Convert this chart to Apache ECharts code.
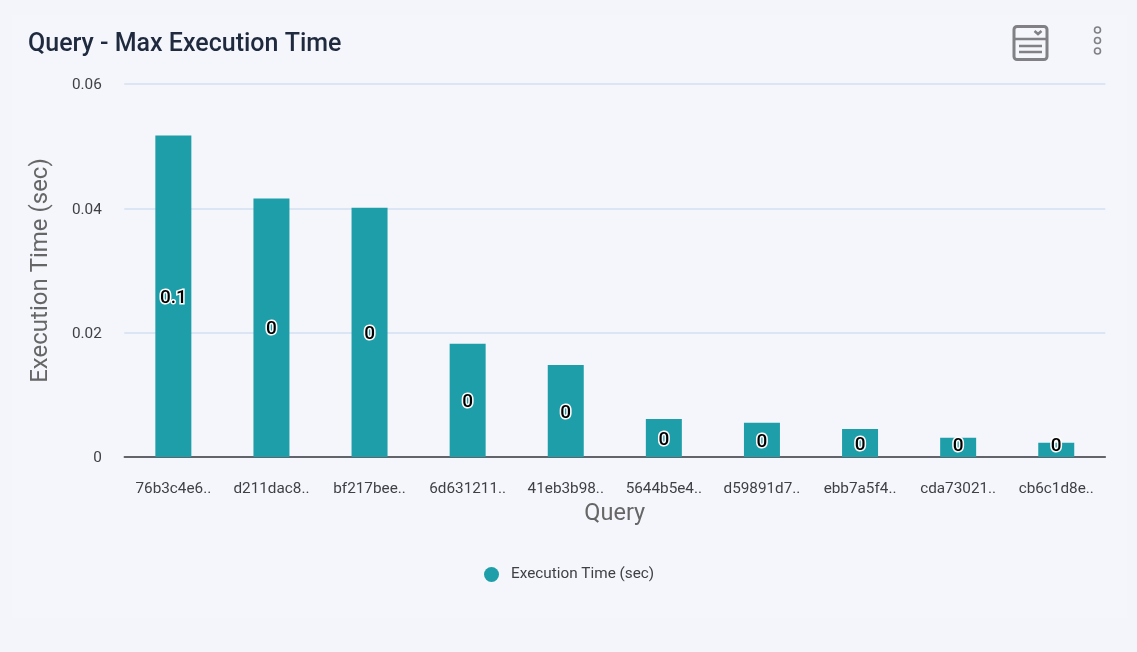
<!DOCTYPE html>
<html><head><meta charset="utf-8">
<style>html,body{margin:0;padding:0;background:#f3f5fa}#c{width:1137px;height:652px}</style>
<script src="https://cdn.jsdelivr.net/npm/echarts@6/dist/echarts.min.js"></script>
</head><body><div id="c"></div>
<script>
const categories=["76b3c4e6..","d211dac8..","bf217bee..","6d631211..","41eb3b98..","5644b5e4..","d59891d7..","ebb7a5f4..","cda73021..","cb6c1d8e.."];
const execTime=[0.0517,0.0416,0.0401,0.0182,0.0148,0.0061,0.0055,0.0045,0.0031,0.0023];
const seriesName="Execution Time (sec)";
const iconColor="#808085";
// short bars: keep the label from sinking towards the axis
const labelShift=v=>Math.min(2,v*3108-11);
const chart=echarts.init(document.getElementById('c'),null,{renderer:'canvas'});
chart.setOption({
 animation:false,
 backgroundColor:'#f3f5fa',
 title:{text:'Query - Max Execution Time',left:28,top:32,padding:0,textStyle:{fontFamily:'Roboto',fontSize:25,fontWeight:500,color:'#1f2a3f'}},
 grid:{left:124.3,right:31.7,top:84,bottom:195},
 legend:{data:[{name:seriesName,icon:'circle'}],left:484,top:567,padding:0,itemWidth:15,itemHeight:15,itemGap:0,
  textStyle:{fontFamily:'Roboto',fontSize:15.3,color:'#3f3f46',padding:[0,0,0,7]}},
 xAxis:{type:'category',data:categories,name:'Query',nameLocation:'middle',nameGap:45,
  nameTextStyle:{fontFamily:'Roboto',fontSize:23.5,color:'#666666'},
  axisLine:{lineStyle:{color:'#3a3a40',width:1.5}},axisTick:{show:false},
  axisLabel:{fontFamily:'Roboto',fontSize:15.3,color:'#3f3f46',margin:25,interval:0}},
 yAxis:{type:'value',min:0,max:0.06,interval:0.02,name:seriesName,nameLocation:'middle',nameGap:71,
  nameTextStyle:{fontFamily:'Roboto',fontSize:24,color:'#666666'},
  axisLine:{show:false},axisTick:{show:false},
  axisLabel:{fontFamily:'Roboto',fontSize:15.3,color:'#3f3f46',margin:22.5,verticalAlign:'top',lineHeight:3},
  splitLine:{lineStyle:{color:'#d5dff0',width:1.5}}},
 series:[{name:seriesName,type:'bar',barWidth:36,
  data:execTime.map(v=>({value:v,label:{offset:[0,labelShift(v)]}})),
  itemStyle:{color:'#1e9ea8'},
  label:{show:true,position:'inside',fontFamily:'Roboto',fontSize:19,fontWeight:500,color:'#000',textBorderColor:'#fff',textBorderWidth:3,
   formatter:p=>String(Math.round(p.value*10)/10)}}],
 graphic:[
  {type:'rect',z:-1,silent:true,shape:{x:12,y:15,width:1115,height:603},style:{fill:'#f4f6fb'}},
  {type:'rect',shape:{x:1014,y:26.5,width:33,height:33,r:3},style:{fill:'none',stroke:iconColor,lineWidth:3}},
  {type:'line',shape:{x1:1014,y1:39,x2:1047,y2:39},style:{stroke:iconColor,lineWidth:2.5}},
  {type:'line',shape:{x1:1019,y1:46,x2:1042,y2:46},style:{stroke:iconColor,lineWidth:2.5}},
  {type:'line',shape:{x1:1019,y1:52,x2:1042,y2:52},style:{stroke:iconColor,lineWidth:2.5}},
  {type:'polyline',shape:{points:[[1034.5,31],[1038,34],[1041.5,31]]},style:{fill:'none',stroke:iconColor,lineWidth:2.5}},
  {type:'circle',shape:{cx:1097.5,cy:30,r:3},style:{fill:'none',stroke:iconColor,lineWidth:1.6}},
  {type:'circle',shape:{cx:1097.5,cy:40.5,r:3},style:{fill:'none',stroke:iconColor,lineWidth:1.6}},
  {type:'circle',shape:{cx:1097.5,cy:51,r:3},style:{fill:'none',stroke:iconColor,lineWidth:1.6}}
 ]
});
</script></body></html>
